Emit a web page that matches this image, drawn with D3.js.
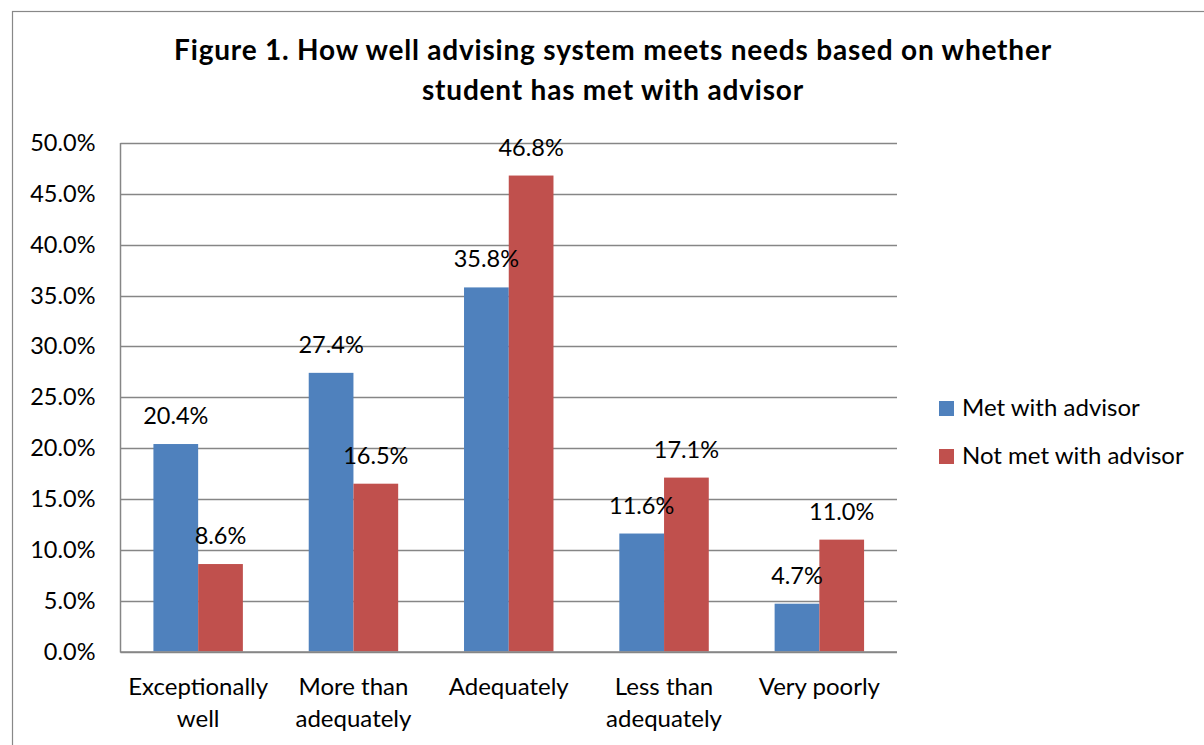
<!DOCTYPE html>
<html>
<head>
<meta charset="utf-8">
<script src="https://cdn.jsdelivr.net/npm/d3@7"></script>
<style>
  body { margin: 0; background: #fff; }
  text { font-family: Lato, "Open Sans", sans-serif; fill: #000; }
</style>
</head>
<body>
<div id="chart"></div>
<script>
// Chart data
const categories = [["Exceptionally", "well"], ["More than", "adequately"], ["Adequately"], ["Less than", "adequately"], ["Very poorly"]];
const seriesNames = ["Met with advisor", "Not met with advisor"];
const metValues = [20.4, 27.4, 35.8, 11.6, 4.7];
const notMetValues = [8.6, 16.5, 46.8, 17.1, 11.0];
const yTicks = [0, 5, 10, 15, 20, 25, 30, 35, 40, 45, 50];
const colors = ["#4F81BD", "#C0504D"];

const W = 1204, H = 745;
const plot = {left: 120.5, top: 143, right: 897, bottom: 651.5};

const svg = d3.select("#chart").append("svg")
  .attr("width", W).attr("height", H);

// outer frame (cropped on right/bottom)
svg.append("rect")
  .attr("x", 12.5).attr("y", 11.5)
  .attr("width", W + 20).attr("height", H + 20)
  .attr("fill", "#fff").attr("stroke", "#888").attr("stroke-width", 1.2);

// title
const title = svg.append("text")
  .attr("text-anchor", "middle")
  .style("font-weight", "bold")
  .style("font-size", "28px")
  .style("letter-spacing", "0.8px");
title.append("tspan").attr("x", 613).attr("y", 60).text("Figure 1. How well advising system meets needs based on whether");
title.append("tspan").attr("x", 613).attr("y", 100).text("student has met with advisor");

const y = d3.scaleLinear().domain([0, 50]).range([plot.bottom, plot.top]);
const x0 = d3.scaleBand().domain(d3.range(categories.length))
  .range([plot.left, plot.right]).paddingInner(0).paddingOuter(0);
const gap = x0.bandwidth() * 0.212;
const x1 = d3.scaleBand().domain([0, 1]).range([gap, x0.bandwidth() - gap]);

// gridlines
svg.append("g").selectAll("line").data(yTicks).join("line")
  .attr("x1", plot.left).attr("x2", plot.right)
  .attr("y1", d => Math.round(y(d)) + 0.5).attr("y2", d => Math.round(y(d)) + 0.5)
  .attr("stroke", "#868686").attr("stroke-width", 1.3);

// y axis labels
const yAxis = svg.append("g")
  .attr("transform", `translate(${plot.left},0)`)
  .call(d3.axisLeft(y).tickValues(yTicks).tickSize(0).tickPadding(25)
    .tickFormat(d => d.toFixed(1) + "%"));
yAxis.select(".domain").remove();
yAxis.selectAll("text")
  .style("font-family", "Lato, sans-serif").style("font-size", "23.5px").attr("fill", "#000");

// bars
const rows = categories.map((c, i) => [metValues[i], notMetValues[i]]);
const groups = svg.append("g").selectAll("g").data(rows).join("g")
  .attr("transform", (d, i) => `translate(${x0(i)},0)`);
groups.selectAll("rect").data(d => d).join("rect")
  .attr("x", (d, j) => x1(j))
  .attr("width", x1.bandwidth())
  .attr("y", d => y(d))
  .attr("height", d => y(0) - y(d))
  .attr("fill", (d, j) => colors[j]);
groups.selectAll("text.lbl").data(d => d).join("text")
  .attr("class", "lbl")
  .attr("text-anchor", "middle")
  .attr("x", (d, j) => x1(j) + x1.bandwidth() / 2)
  .attr("y", d => y(d) - 20)
  .style("font-size", "23.5px")
  .text(d => d.toFixed(1) + "%");

// axis lines
svg.append("line")
  .attr("x1", plot.left).attr("x2", plot.left)
  .attr("y1", plot.top).attr("y2", plot.bottom + 1)
  .attr("stroke", "#868686").attr("stroke-width", 1.5);
svg.append("line")
  .attr("x1", plot.left).attr("x2", plot.right)
  .attr("y1", plot.bottom + 0.5).attr("y2", plot.bottom + 0.5)
  .attr("stroke", "#868686").attr("stroke-width", 1.5);

// category labels
const cat = svg.append("g").selectAll("text").data(categories).join("text")
  .attr("text-anchor", "middle")
  .style("font-size", "24px");
cat.selectAll("tspan").data((d, i) => d.map(s => ({s, i}))).join("tspan")
  .attr("x", d => x0(d.i) + x0.bandwidth() / 2)
  .attr("y", (d, k) => 695 + k * 32)
  .text(d => d.s);

// legend
const legend = svg.append("g").selectAll("g").data(seriesNames).join("g")
  .attr("transform", (d, i) => `translate(939,${401 + i * 48})`);
legend.append("rect").attr("width", 15).attr("height", 15)
  .attr("fill", (d, i) => colors[i]);
legend.append("text").attr("x", 23).attr("y", 14.5)
  .style("font-size", "24px").text(d => d);
</script>
</body>
</html>
